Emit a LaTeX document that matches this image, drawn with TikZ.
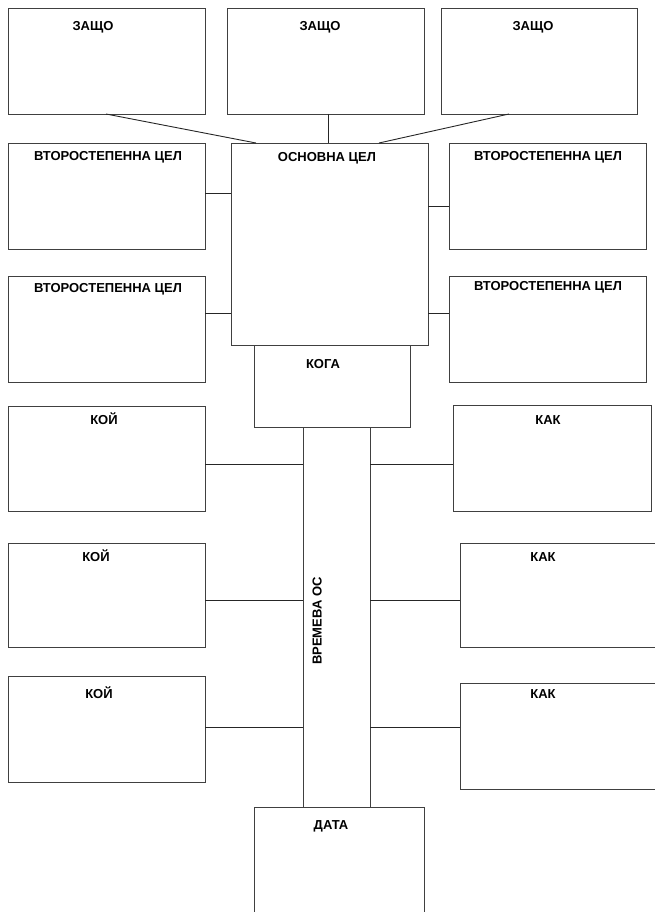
\documentclass[tikz,border=0pt]{standalone}
\usepackage{fontspec}
\setmainfont{Liberation Sans}
\begin{document}
\begin{tikzpicture}[x=1pt,y=-1pt,
  box/.style={draw=black!75, line width=0.9pt, rectangle, anchor=north west, inner sep=0pt, outer sep=0pt},
  conn/.style={draw=black!85, line width=0.9pt},
  lbl/.style={font=\fontsize{13}{15}\selectfont\bfseries, inner sep=0pt, text height=9.3pt, text depth=0pt, anchor=center}]
\useasboundingbox (0,0) rectangle (654,912);
% ЗАЩО boxes
\node[box, minimum width=197pt, minimum height=106pt] (z1) at (8,8) {};
\node[box, minimum width=197pt, minimum height=106pt] (z2) at (227,8) {};
\node[box, minimum width=196pt, minimum height=106pt] (z3) at (441,8) {};
% main
\node[box, minimum width=197pt, minimum height=202pt] (main) at (231,143) {};
% secondary goals
\node[box, minimum width=197pt, minimum height=106pt] (v1) at (8,143) {};
\node[box, minimum width=197pt, minimum height=106pt] (v2) at (449,143) {};
\node[box, minimum width=197pt, minimum height=106pt] (v3) at (8,276) {};
\node[box, minimum width=197pt, minimum height=106pt] (v4) at (449,276) {};
% when
\node[box, minimum width=156pt, minimum height=82pt] (koga) at (254,345) {};
% axis
\node[box, minimum width=67pt, minimum height=380pt] (axis) at (303,427) {};
% who
\node[box, minimum width=197pt, minimum height=105pt] (k1) at (8,406) {};
\node[box, minimum width=197pt, minimum height=104pt] (k2) at (8,543) {};
\node[box, minimum width=197pt, minimum height=106pt] (k3) at (8,676) {};
% how
\node[box, minimum width=198pt, minimum height=106pt] (h1) at (453,405) {};
\node[box, minimum width=210pt, minimum height=104pt] (h2) at (460,543) {};
\node[box, minimum width=210pt, minimum height=106pt] (h3) at (460,683) {};
% date
\node[box, minimum width=170pt, minimum height=115pt] (data) at (254,807) {};

% connectors
\coordinate (za) at (106,114);
\coordinate (zb) at (509,114);
\draw[conn] (za) -- (main.north west -| 256,0);
\draw[conn] (z2.south -| 328,0) -- (main.north -| 328,0);
\draw[conn] (zb) -- (main.north west -| 379,0);
\draw[conn] (v1.east |- 0,193) -- (main.west |- 0,193);
\draw[conn] (main.east |- 0,206) -- (v2.west |- 0,206);
\draw[conn] (v3.east |- 0,313) -- (main.west |- 0,313);
\draw[conn] (main.east |- 0,313) -- (v4.west |- 0,313);
\draw[conn] (k1.east |- 0,464) -- (axis.west |- 0,464);
\draw[conn] (axis.east |- 0,464) -- (h1.west |- 0,464);
\draw[conn] (k2.east |- 0,600) -- (axis.west |- 0,600);
\draw[conn] (axis.east |- 0,600) -- (h2.west |- 0,600);
\draw[conn] (k3.east |- 0,727) -- (axis.west |- 0,727);
\draw[conn] (axis.east |- 0,727) -- (h3.west |- 0,727);

% labels
\node[lbl] (tz1) at (93,26) {ЗАЩО};
\node[lbl] (tz2) at (320,26) {ЗАЩО};
\node[lbl] (tz3) at (533,26) {ЗАЩО};
\node[lbl] (tv1) at (108,156) {ВТОРОСТЕПЕННА ЦЕЛ};
\node[lbl] (tv2) at (548,156) {ВТОРОСТЕПЕННА ЦЕЛ};
\node[lbl] (tv3) at (108,288) {ВТОРОСТЕПЕННА ЦЕЛ};
\node[lbl] (tv4) at (548,286) {ВТОРОСТЕПЕННА ЦЕЛ};
\node[lbl] (tmain) at (327,157) {ОСНОВНА ЦЕЛ};
\node[lbl] (tkoga) at (323,364) {КОГА};
\node[lbl] (tk1) at (104,420) {КОЙ};
\node[lbl] (tk2) at (96,557) {КОЙ};
\node[lbl] (tk3) at (99,694) {КОЙ};
\node[lbl] (th1) at (548,420) {КАК};
\node[lbl] (th2) at (543,557) {КАК};
\node[lbl] (th3) at (543,694) {КАК};
\node[lbl] (tdata) at (331,825) {ДАТА};
\node[lbl, rotate=90] (taxis) at (317,621) {ВРЕМЕВА ОС};
\end{tikzpicture}
\end{document}
